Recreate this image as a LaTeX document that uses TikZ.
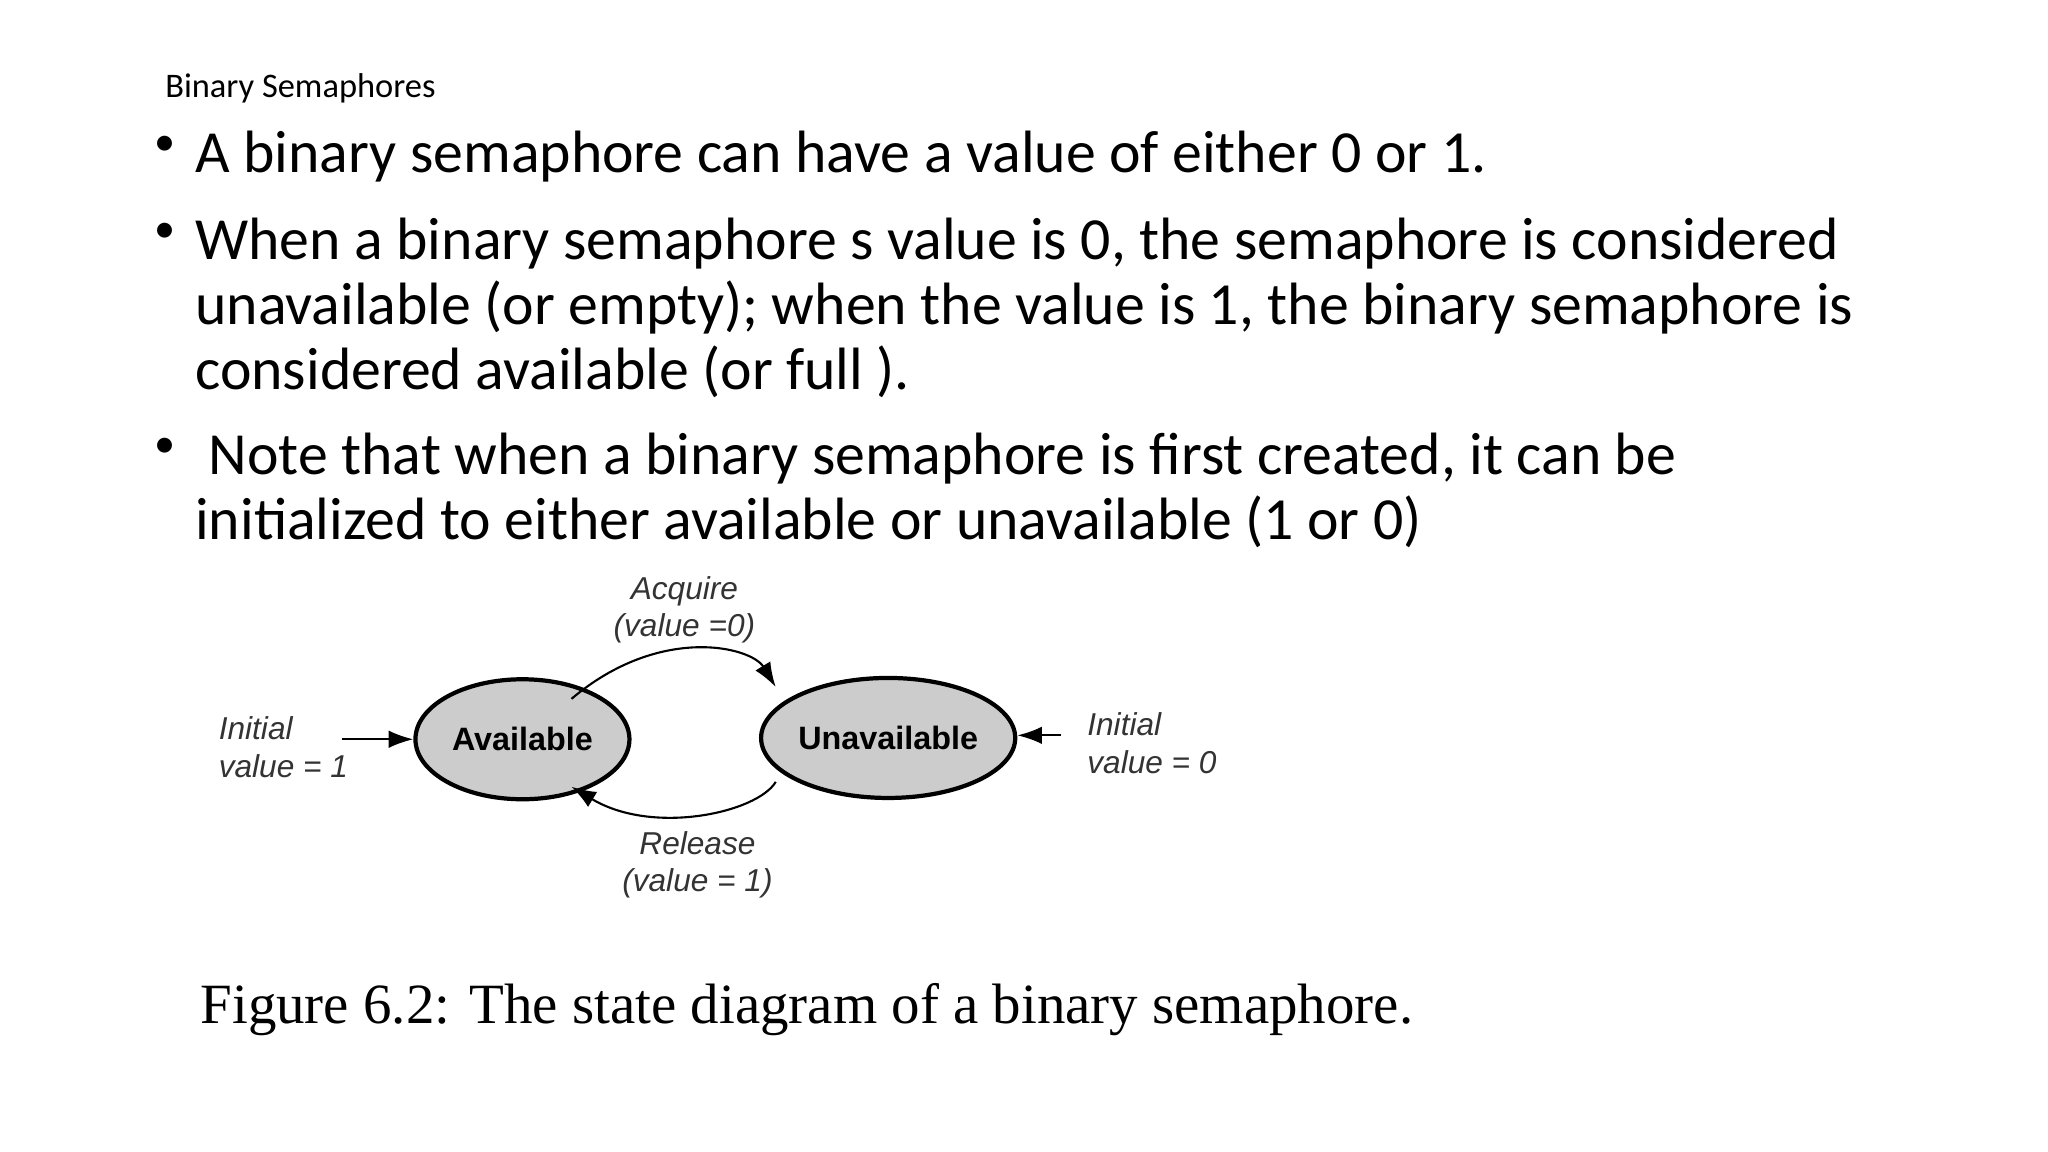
\documentclass[tikz,border=0pt]{standalone}
\usepackage{fontspec}
\setmainfont{Carlito}
\newfontfamily\figsans{Liberation Sans}
\newfontfamily\capfont{Liberation Serif}
\usetikzlibrary{arrows.meta,shapes.geometric}
\begin{document}
\begin{tikzpicture}[x=0.01306cm,y=-0.01306cm,
  bul/.style={anchor=north west,align=left,font=\fontsize{17}{18.5}\selectfont,inner sep=0},
  dot/.style={anchor=north west,font=\fontsize{12}{14}\selectfont,inner sep=0},
  st/.style={ellipse,draw,line width=1.2pt,fill=gray!40,minimum width=2.14cm,minimum height=1.2cm,inner sep=0,font=\figsans\bfseries\fontsize{9.2}{10}\selectfont},
  lab/.style={font=\figsans\itshape\fontsize{9}{10.6}\selectfont,align=left,text=black!80},
  arr/.style={-{Latex[length=7pt,width=5pt]},line width=0.6pt}]
\useasboundingbox (0,0) rectangle (1568,882);
\node[anchor=west,font=\fontsize{9.8}{11}\selectfont,inner sep=0] (title) at (126,68) {Binary Semaphores};
\node[dot] (b1d) at (118,104) {\textbullet};
\node[bul] (b1) at (149,100) {A binary semaphore can have a value of either 0 or 1.};
\node[dot] (b2d) at (118,170) {\textbullet};
\node[bul] (b2) at (149,166) {When a binary semaphore s value is 0, the semaphore is considered\\unavailable (or empty); when the value is 1, the binary semaphore is\\considered available (or full ).};
\node[dot] (b3d) at (118,335) {\textbullet};
\node[bul] (b3) at (149,331) {\ Note that when a binary semaphore is first created, it can be\\initialized to either available or unavailable (1 or 0)};
\node[st] (av) at (400,566) {Available};
\node[st] (un) at (680,565) {Unavailable};
\node[lab,anchor=west] (i1) at (158,572) {Initial\\value = 1};
\node[lab,anchor=west] (i0) at (823,569) {Initial\\value = 0};
\node[lab,align=center] (acq) at (524,467) {Acquire\\(value =0)};
\node[lab,align=center] (rel) at (534,662) {Release\\(value = 1)};
\coordinate (s1) at (262,566);
\draw[arr] (s1) -- (av.west|-s1);
\coordinate (s0) at (812,563);
\draw[arr] (s0) -- (un.east|-s0);
\draw[arr] ([xshift=-8pt,yshift=-1pt]av.north east) .. controls (505,478) and (575,495) .. ([xshift=-6pt,yshift=2pt]un.north west);
\draw[arr] ([xshift=-6pt]un.south west) .. controls (580,622) and (500,640) .. ([xshift=-8pt,yshift=-1pt]av.south east);
\node[anchor=west,font=\capfont\fontsize{16.2}{18}\selectfont,inner sep=0] (cap) at (153,773) {Figure 6.2: The state diagram of a binary semaphore.};
\end{tikzpicture}
\end{document}
